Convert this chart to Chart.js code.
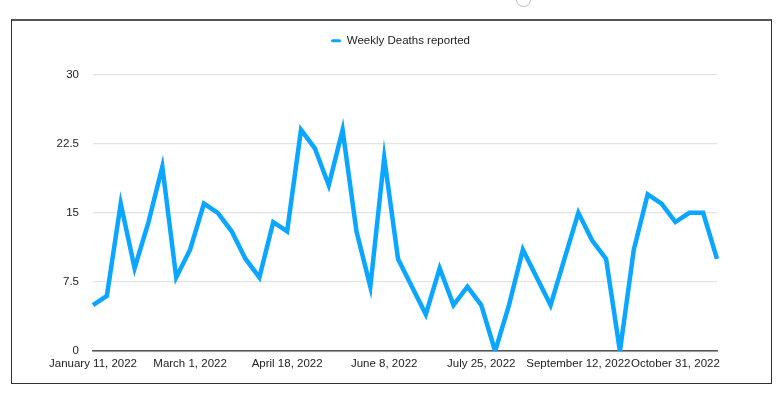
<!DOCTYPE html>
<html>
<head>
<meta charset="utf-8">
<script src="https://cdn.jsdelivr.net/npm/chart.js@4"></script>
<style>
  body { margin: 0; background: #fff; width: 780px; height: 396px; position: relative; overflow: hidden; }
  #frame { position: absolute; left: 11px; top: 19px; width: 759px; height: 362px;
           border: 1px solid #333; border-top: 2px solid #555; }
  #frame canvas { display: block; }
  #dot { position: absolute; left: 516px; top: -8px; width: 13px; height: 13px;
         border: 1px solid #bbb; border-radius: 50%; }
</style>
</head>
<body>
<div id="dot"></div>
<div id="frame"><canvas id="report" width="759" height="362"></canvas></div>
<script>
var weekLabels = [
  'January 11, 2022', 'January 18, 2022', 'January 25, 2022', 'February 1, 2022', 'February 8, 2022',
  'February 15, 2022', 'February 22, 2022', 'March 1, 2022', 'March 8, 2022', 'March 15, 2022',
  'March 22, 2022', 'March 29, 2022', 'April 5, 2022', 'April 12, 2022', 'April 18, 2022',
  'April 25, 2022', 'May 2, 2022', 'May 9, 2022', 'May 16, 2022', 'May 23, 2022',
  'May 31, 2022', 'June 8, 2022', 'June 13, 2022', 'June 20, 2022', 'June 27, 2022',
  'July 5, 2022', 'July 11, 2022', 'July 18, 2022', 'July 25, 2022', 'August 1, 2022',
  'August 8, 2022', 'August 15, 2022', 'August 22, 2022', 'August 29, 2022', 'September 6, 2022',
  'September 12, 2022', 'September 19, 2022', 'September 26, 2022', 'October 3, 2022', 'October 10, 2022',
  'October 17, 2022', 'October 24, 2022', 'October 31, 2022', 'November 7, 2022', 'November 14, 2022',
  'November 21, 2022'
];

var weeklyDeaths = [
  5, 6, 16, 9, 14, 20, 8, 11, 16, 15,
  13, 10, 8, 14, 13, 24, 22, 18, 24, 13,
  7, 21, 10, 7, 4, 9, 5, 7, 5, 0,
  5, 11, 8, 5, 10, 15, 12, 10, 0, 11,
  17, 16, 14, 15, 15, 10
];

var yTicks = [0, 7.5, 15, 22.5, 30];

Chart.defaults.font.family = '"Liberation Sans", Arial, sans-serif';
Chart.defaults.font.size = 11.5;
Chart.defaults.color = '#222';

// push the plot down below the legend, and centre the legend over the plot
var legendGap = {
    id: 'legendGap',
    beforeInit: function(chart) {
        var fit = chart.legend.fit;
        chart.legend.fit = function() {
            fit.bind(chart.legend)();
            this.height += 18;
        };
    },
    afterLayout: function(chart) {
        chart.legend.left += 36;
        chart.legend.right += 36;
    }
};

const ctx = document.getElementById('report').getContext('2d');

var deathsChart = new Chart(ctx, {
    type: 'line',
    data: {
        labels: weekLabels,
        datasets: [{
            label: 'Weekly Deaths reported',
            data: weeklyDeaths,
            borderColor: '#0aa6ff',
            backgroundColor: '#0aa6ff',
            borderWidth: 4.5,
            pointRadius: 0,
            tension: 0,
            fill: false
        }]
    },
    options: {
        responsive: false,
        animation: false,
        layout: { padding: { left: 0, right: 54, top: 4, bottom: 6 } },
        plugins: {
            legend: {
                position: 'top',
                labels: {
                    boxWidth: 10,
                    boxHeight: 3,
                    padding: 10,
                    generateLabels: function(chart) {
                        var items = Chart.defaults.plugins.legend.labels.generateLabels(chart);
                        items.forEach(function(it) { it.lineWidth = 0; it.borderRadius = 1.5; });
                        return items;
                    }
                }
            },
            tooltip: { enabled: false }
        },
        scales: {
            x: {
                grid: { display: false, drawTicks: false },
                border: { display: true, color: '#555', width: 1.5 },
                ticks: {
                    autoSkip: false,
                    maxRotation: 0,
                    padding: 6,
                    callback: function(value, index) {
                        return index % 7 === 0 ? weekLabels[index] : '';
                    }
                }
            },
            y: {
                min: 0,
                max: 30,
                afterFit: function(scale) { scale.width = 81; },
                afterBuildTicks: function(scale) {
                    scale.ticks = yTicks.map(function(v) { return { value: v }; });
                },
                grid: { color: '#e3e3e3', drawTicks: false, lineWidth: 1.2 },
                border: { display: false },
                ticks: {
                    padding: 14,
                    callback: function(value) { return value; }
                }
            }
        }
    },
    plugins: [legendGap]
});
</script>
</body>
</html>
